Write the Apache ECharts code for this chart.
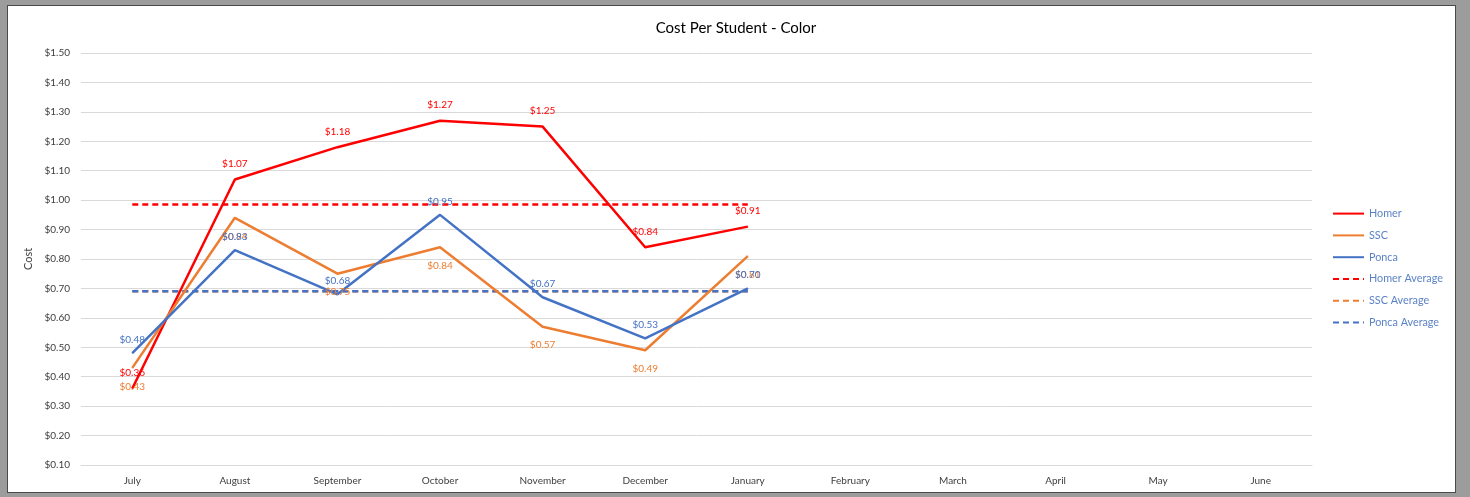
<!DOCTYPE html>
<html>
<head>
<meta charset="utf-8">
<script src="https://cdn.jsdelivr.net/npm/echarts@6/dist/echarts.min.js"></script>
<style>
  html, body { margin: 0; padding: 0; width: 1470px; height: 497px; background: #9c9c9c; overflow: hidden; }
  #frame { position: absolute; left: 7px; top: 5px; width: 1447px; height: 486px; background: #ffffff; border: 1px solid #4a4a4a; }
  #chart { position: absolute; left: 0; top: 0; width: 1470px; height: 497px; }
</style>
</head>
<body>
<div id="frame"></div>
<div id="chart"></div>
<script>
const months = ['July','August','September','October','November','December','January','February','March','April','May','June'];
const homer = [0.36, 1.07, 1.18, 1.27, 1.25, 0.84, 0.91];
const ssc = [0.43, 0.94, 0.75, 0.84, 0.57, 0.49, 0.81];
const ponca = [0.48, 0.83, 0.68, 0.95, 0.67, 0.53, 0.70];
const homerAvg = [0.985, 0.985, 0.985, 0.985, 0.985, 0.985, 0.985];
const sscAvg = [0.69, 0.69, 0.69, 0.69, 0.69, 0.69, 0.69];
const poncaAvg = [0.69, 0.69, 0.69, 0.69, 0.69, 0.69, 0.69];

const RED = '#ff0000', ORANGE = '#ed7d31', BLUE = '#4472c4';
const FONT = 'Lato, "Open Sans", sans-serif';
const money = v => '$' + Number(v).toFixed(2);

function mainSeries(name, data, color, pos, dist) {
  return {
    name, type: 'line', data, symbol: 'circle', symbolSize: 1, showSymbol: true,
    lineStyle: { color, width: 2.5 }, itemStyle: { color },
    label: { show: true, position: pos, distance: dist, color, fontSize: 10, fontFamily: FONT,
             formatter: p => money(p.value) },
    labelLayout: { hideOverlap: false },
    emphasis: { disabled: true }, animation: false, z: 3
  };
}
function avgSeries(name, data, color) {
  return {
    name, type: 'line', data, symbol: 'none', showSymbol: false,
    lineStyle: { color, width: 2.5, type: [6, 4] }, itemStyle: { color },
    emphasis: { disabled: true }, animation: false, z: 2
  };
}

const chart = echarts.init(document.getElementById('chart'), null, { renderer: 'canvas' });
chart.setOption({
  backgroundColor: 'transparent',
  animation: false,
  title: {
    text: 'Cost Per Student - Color', left: 731, top: 16, textAlign: 'center',
    textStyle: { fontSize: 15, fontWeight: 'normal', color: '#000', fontFamily: FONT }
  },
  legend: {
    orient: 'vertical', left: 1327, top: 203, itemWidth: 31, itemHeight: 14, itemGap: 7.6,
    itemGap: 7.6 + 3,
    itemStyle: { opacity: 0 },
    textStyle: { color: '#5b82c7', fontSize: 10.8, fontFamily: FONT },
    data: ['Homer','SSC','Ponca','Homer Average','SSC Average','Ponca Average']
  },
  grid: { left: 81, right: 158, top: 53, bottom: 32 },
  xAxis: {
    type: 'category', data: months, boundaryGap: true,
    axisLine: { show: true, lineStyle: { color: '#d9d9d9' } },
    axisTick: { show: false },
    axisLabel: { color: '#404040', fontSize: 10, fontFamily: FONT, margin: 11 }
  },
  yAxis: {
    type: 'value', min: 0.1, max: 1.5, interval: 0.1,
    name: 'Cost', nameLocation: 'middle', nameGap: 38, nameRotate: 90,
    nameTextStyle: { color: '#404040', fontSize: 11, fontFamily: FONT },
    axisLine: { show: false }, axisTick: { show: false },
    splitLine: { lineStyle: { color: '#d9d9d9', width: 1 } },
    axisLabel: { color: '#404040', fontSize: 10, fontFamily: FONT, margin: 11,
                 formatter: v => money(v) }
  },
  series: [
    mainSeries('Homer', homer, RED, 'top', 10),
    mainSeries('SSC', ssc, ORANGE, 'bottom', 13),
    mainSeries('Ponca', ponca, BLUE, 'top', 8),
    avgSeries('Homer Average', homerAvg, RED),
    avgSeries('SSC Average', sscAvg, ORANGE),
    avgSeries('Ponca Average', poncaAvg, BLUE)
  ]
});
</script>
</body>
</html>
